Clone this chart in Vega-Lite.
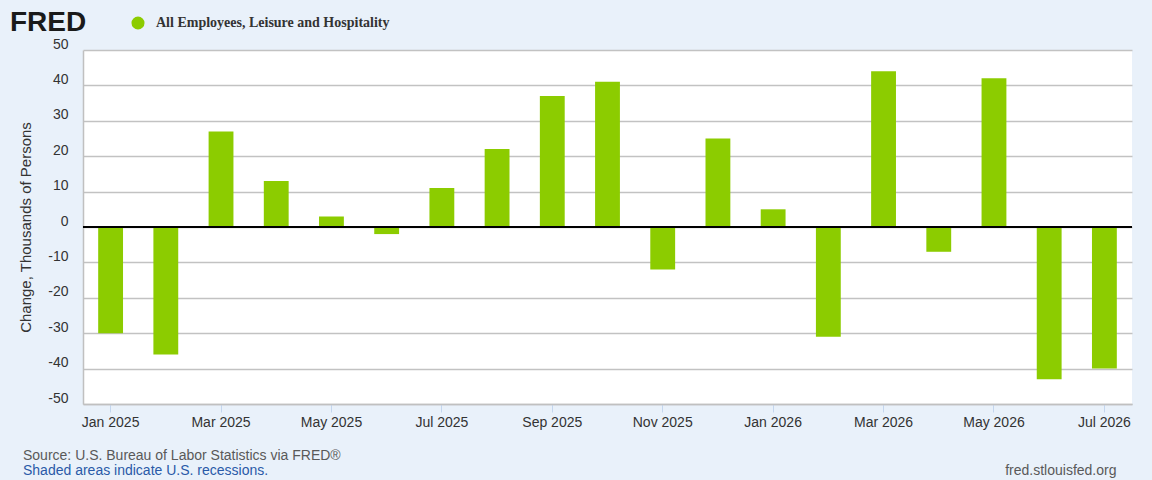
{
  "$schema": "https://vega.github.io/schema/vega-lite/v6.json",
  "autosize": "none",
  "width": 1049,
  "height": 354,
  "padding": {"left": 83, "top": 50, "right": 20, "bottom": 76},
  "background": "#e9f1fa",
  "title": {
    "text": "Source: U.S. Bureau of Labor Statistics via FRED®",
    "subtitle": "Shaded areas indicate U.S. recessions.",
    "orient": "bottom",
    "anchor": "start",
    "frame": "group",
    "dx": -60,
    "offset": -28,
    "font": "Liberation Sans",
    "fontSize": 14,
    "fontWeight": "normal",
    "color": "#595959",
    "subtitleFont": "Liberation Sans",
    "subtitleFontSize": 14,
    "subtitleColor": "#2a5aa8",
    "subtitlePadding": 1
  },
  "data": {
    "values": [
      {"month": "Jan 2025", "series": "All Employees, Leisure and Hospitality", "change": -30},
      {"month": "Feb 2025", "series": "All Employees, Leisure and Hospitality", "change": -36},
      {"month": "Mar 2025", "series": "All Employees, Leisure and Hospitality", "change": 27},
      {"month": "Apr 2025", "series": "All Employees, Leisure and Hospitality", "change": 13},
      {"month": "May 2025", "series": "All Employees, Leisure and Hospitality", "change": 3},
      {"month": "Jun 2025", "series": "All Employees, Leisure and Hospitality", "change": -2},
      {"month": "Jul 2025", "series": "All Employees, Leisure and Hospitality", "change": 11},
      {"month": "Aug 2025", "series": "All Employees, Leisure and Hospitality", "change": 22},
      {"month": "Sep 2025", "series": "All Employees, Leisure and Hospitality", "change": 37},
      {"month": "Oct 2025", "series": "All Employees, Leisure and Hospitality", "change": 41},
      {"month": "Nov 2025", "series": "All Employees, Leisure and Hospitality", "change": -12},
      {"month": "Dec 2025", "series": "All Employees, Leisure and Hospitality", "change": 25},
      {"month": "Jan 2026", "series": "All Employees, Leisure and Hospitality", "change": 5},
      {"month": "Feb 2026", "series": "All Employees, Leisure and Hospitality", "change": -31},
      {"month": "Mar 2026", "series": "All Employees, Leisure and Hospitality", "change": 44},
      {"month": "Apr 2026", "series": "All Employees, Leisure and Hospitality", "change": -7},
      {"month": "May 2026", "series": "All Employees, Leisure and Hospitality", "change": 42},
      {"month": "Jun 2026", "series": "All Employees, Leisure and Hospitality", "change": -43},
      {"month": "Jul 2026", "series": "All Employees, Leisure and Hospitality", "change": -40}
    ]
  },
  "layer": [
    {
      "mark": {"type": "bar"},
      "encoding": {
        "x": {
          "field": "month",
          "type": "nominal",
          "sort": null,
          "scale": {"paddingInner": 0.55, "paddingOuter": 0.275},
          "axis": {
            "values": ["Jan 2025", "Mar 2025", "May 2025", "Jul 2025", "Sep 2025", "Nov 2025", "Jan 2026", "Mar 2026", "May 2026", "Jul 2026"],
            "labelAngle": 0,
            "labelFont": "Liberation Sans",
            "labelFontSize": 14,
            "labelColor": "#333333",
            "labelPadding": 3,
            "labelOverlap": false,
            "tickColor": "#c4d6ee",
            "tickSize": 8,
            "domainColor": "#c0c0c0",
            "domainWidth": 1.5,
            "grid": false,
            "title": "fred.stlouisfed.org",
            "titleFont": "Liberation Sans",
            "titleFontSize": 14,
            "titleFontWeight": "normal",
            "titleColor": "#595959",
            "titleAnchor": "end",
            "titleAlign": "right",
            "titleBaseline": "alphabetic",
            "titleX": 1033,
            "titleY": 70
          }
        },
        "y": {
          "field": "change",
          "type": "quantitative",
          "scale": {"domain": [-50, 50], "nice": false},
          "axis": {
            "values": [-50, -40, -30, -20, -10, 0, 10, 20, 30, 40, 50],
            "tickCount": 11,
            "labelExpr": "toString(datum.value)",
            "labelOverlap": false,
            "ticks": false,
            "labelFont": "Liberation Sans",
            "labelFontSize": 14,
            "labelColor": "#333333",
            "labelPadding": 15,
            "labelBaseline": "alphabetic",
            "labelOffset": -2,
            "gridColor": "#c2c2c2",
            "gridWidth": 1.6,
            "domainColor": "#c0c0c0",
            "domainWidth": 1.5,
            "title": "Change, Thousands of Persons",
            "titleFont": "Liberation Sans",
            "titleFontSize": 15,
            "titleFontWeight": "normal",
            "titleColor": "#333333",
            "titlePadding": 14
          }
        },
        "color": {
          "field": "series",
          "type": "nominal",
          "scale": {"range": ["#8ccc00"]},
          "legend": {
            "title": "FRED",
            "orient": "none",
            "legendX": -73,
            "legendY": -34,
            "direction": "horizontal",
            "titleOrient": "left",
            "titleFont": "Liberation Sans",
            "titleFontSize": 28,
            "titleFontWeight": 900,
            "titleColor": "#1a1a1a",
            "titlePadding": 44,
            "symbolType": "circle",
            "symbolSize": 170,
            "symbolStrokeWidth": 0,
            "labelFont": "Liberation Serif",
            "labelFontSize": 14,
            "labelFontWeight": "bold",
            "labelColor": "#333333",
            "labelOffset": 11,
            "labelLimit": 400
          }
        }
      }
    },
    {
      "mark": {"type": "rule", "color": "#000000", "strokeWidth": 2},
      "encoding": {"y": {"datum": 0, "type": "quantitative"}}
    }
  ],
  "config": {
    "view": {"stroke": null, "fill": "#ffffff"}
  }
}
